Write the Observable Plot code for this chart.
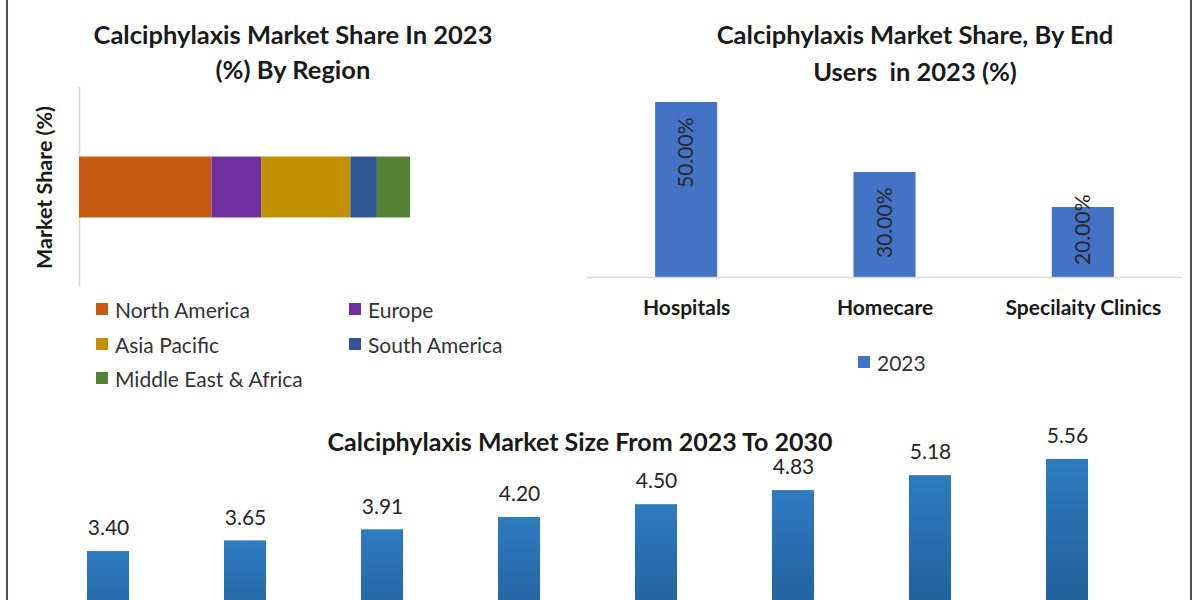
<!DOCTYPE html>
<html><head><meta charset="utf-8">
<script src="https://cdn.jsdelivr.net/npm/d3@7"></script>
<script src="https://cdn.jsdelivr.net/npm/@observablehq/plot@0.6"></script>
<style>
html,body{margin:0;padding:0;background:#fff;overflow:hidden;}
#page{position:relative;width:1200px;height:600px;overflow:hidden;background:#fff;font-family:Lato,"Open Sans",sans-serif;color:#262626;}
.title{position:absolute;font-weight:700;font-size:25.5px;color:#1a1a1a;text-align:center;white-space:pre;}
.legend-item{position:absolute;display:flex;align-items:center;height:24px;font-size:21px;color:#333;white-space:nowrap;}
.sw{width:12px;height:12px;margin-right:7px;flex:none;}
.border{position:absolute;top:0;width:2px;height:600px;background:#44546a;}
svg [aria-label="x-axis tick label"] text{font-weight:700;}
</style></head><body><div id="page"></div>
<script>
// ---- data ----
const regions = ["North America", "Europe", "Asia Pacific", "South America", "Middle East & Africa"];
const regionShare = [40, 15, 27, 8, 10];
const regionColors = ["#c55a11", "#7030a0", "#bf9000", "#2f5597", "#548235"];

const endUsers = ["Hospitals", "Homecare", "Specilaity Clinics"];
const endUserShare = [50, 30, 20];
const endUserLabels = ["50.00%", "30.00%", "20.00%"];

const years = ["2023", "2024", "2025", "2026", "2027", "2028", "2029", "2030"];
const marketSize = [3.40, 3.65, 3.91, 4.20, 4.50, 4.83, 5.18, 5.56];

const title1 = "Calciphylaxis Market Share In 2023\n(%) By Region";
const title2 = "Calciphylaxis Market Share, By End\nUsers  in 2023 (%)";
const title3 = "Calciphylaxis Market Size From 2023 To 2030";
const yLabel1 = "Market Share (%)";
const legend2Label = "2023";

// ---- layout helpers ----
const page = document.getElementById("page");
function place(el, left, top) { el.style.position = "absolute"; el.style.left = left + "px"; el.style.top = top + "px"; page.appendChild(el); return el; }
function titleDiv(text, center, top, width, lh, size) {
  const d = document.createElement("div");
  d.className = "title"; d.textContent = text;
  d.style.width = width + "px"; d.style.lineHeight = lh + "px";
  if (size) d.style.fontSize = size + "px";
  return place(d, center - width / 2, top);
}
function legendItem(color, label, left, centerY) {
  const d = document.createElement("div");
  d.className = "legend-item";
  const s = document.createElement("span"); s.className = "sw"; s.style.background = color;
  const t = document.createElement("span"); t.textContent = label;
  d.appendChild(s); d.appendChild(t);
  return place(d, left, centerY - 12);
}
const font = {fontFamily: "Lato, 'Open Sans', sans-serif", background: "transparent", overflow: "visible"};

// ---- borders ----
const bl = document.createElement("div"); bl.className = "border"; place(bl, 6, 0);
const br = document.createElement("div"); br.className = "border"; place(br, 1190, 0);

// ---- panel 1: stacked bar by region ----
const regionData = regions.map((r, i) => ({region: r, share: regionShare[i], year: "2023"}));
const p1 = Plot.plot({
  width: 580, height: 300,
  marginLeft: 79, marginRight: 4.5, marginTop: 87, marginBottom: 13,
  style: font,
  x: {domain: [0, 150], axis: null},
  y: {domain: ["2023"], axis: null, padding: 0.533, round: false},
  color: {domain: regions, range: regionColors},
  marks: [
    Plot.ruleX([0], {stroke: "#d9d9d9", strokeWidth: 1.5}),
    Plot.barX(regionData, Plot.stackX({x: "share", y: "year", fill: "region"})),
    Plot.text([yLabel1], {text: d => d, frameAnchor: "left", textAnchor: "middle", rotate: -90, dx: -34, fontSize: 21.5, fontWeight: "bold", fill: "#1a1a1a"})
  ]
});
place(p1, 0, 0);
titleDiv(title1, 293, 17, 560, 35);
const cols = [96, 349];
const rows = [309, 344, 378];
regions.forEach((r, i) => legendItem(regionColors[i], r, cols[i % 2], rows[Math.floor(i / 2)]));

// ---- panel 2: end users ----
const userData = endUsers.map((n, i) => ({name: n, share: endUserShare[i], label: endUserLabels[i]}));
const p2 = Plot.plot({
  width: 610, height: 330,
  marginLeft: 7, marginRight: 8, marginTop: 102, marginBottom: 53,
  style: font,
  x: {domain: endUsers, paddingInner: 0.687, paddingOuter: 0.3435, label: null, round: false},
  y: {domain: [0, 50], axis: null},
  marks: [
    Plot.barY(userData, {x: "name", y: "share", fill: "#4472c4"}),
    Plot.ruleY([0], {stroke: "#d9d9d9", strokeWidth: 1.5}),
    Plot.text(userData, {x: "name", y: d => Math.max(d.share, 28), text: "label", rotate: -90, textAnchor: "end", dy: 15, fontSize: 21, fill: "#262626"}),
    Plot.axisX({tickSize: 0, tickPadding: 23, fontSize: 21, fontWeight: "bold", fill: "#1a1a1a", label: null})
  ]
});
place(p2, 580, 0);
titleDiv(title2, 915, 16, 560, 37);
legendItem("#4472c4", legend2Label, 858, 362);

// ---- panel 3: market size ----
const sizeData = years.map((y, i) => ({year: y, size: marketSize[i]}));
const p3 = Plot.plot({
  width: 1200, height: 310,
  marginLeft: 39.5, marginRight: 64.5, marginTop: 40.2, marginBottom: 14,
  style: font,
  x: {domain: years, paddingInner: 0.693, paddingOuter: 0.3466, axis: null, round: false},
  y: {domain: [0, 6], axis: null},
  marks: [
    Plot.barY(sizeData, {x: "year", y: "size", fill: "url(#sizeGrad)"}),
    Plot.text(sizeData, {x: "year", y: "size", text: d => d.size.toFixed(2), dy: -23, fontSize: 21, fill: "#262626"})
  ]
});
const defs = d3.select(p3).insert("defs", ":first-child");
const grad = defs.append("linearGradient").attr("id", "sizeGrad").attr("x1", 0).attr("y1", 0).attr("x2", 0).attr("y2", 1);
grad.append("stop").attr("offset", "0%").attr("stop-color", "#2e7bc0");
grad.append("stop").attr("offset", "100%").attr("stop-color", "#1a4f86");
place(p3, 0, 400);
titleDiv(title3, 580, 429, 760, 24, 25);
</script>
</body></html>
